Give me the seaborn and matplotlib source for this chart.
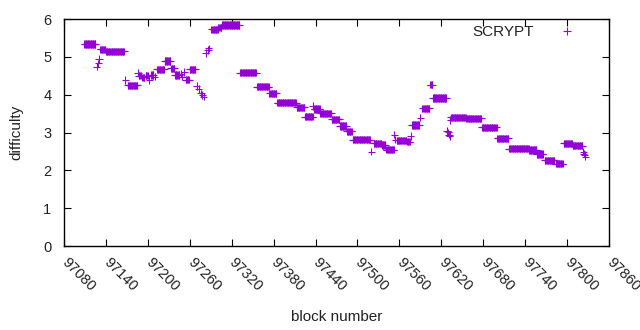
import numpy as np
import pandas as pd
import matplotlib
matplotlib.use("Agg")
import matplotlib.pyplot as plt
import seaborn as sns

# Runs of constant difficulty: (first block, last block, difficulty)
run_start = [97109, 97132, 97140, 97171, 97187, 97192, 97197, 97205, 97213, 97224,
             97233, 97239, 97254, 97260, 97291, 97301, 97306, 97332, 97356, 97374,
             97385, 97413, 97425, 97438, 97447, 97463, 97475, 97485, 97493, 97523,
             97535, 97541, 97556, 97571, 97578, 97593, 97604, 97608, 97634, 97656,
             97678, 97700, 97717, 97746, 97757, 97768, 97784, 97795, 97808]
run_end = [97125, 97139, 97166, 97185, 97190, 97195, 97200, 97208, 97223, 97232,
           97238, 97245, 97259, 97268, 97300, 97305, 97331, 97355, 97373, 97384,
           97412, 97424, 97436, 97446, 97462, 97474, 97484, 97492, 97518, 97534,
           97540, 97552, 97570, 97575, 97588, 97603, 97607, 97627, 97655, 97677,
           97699, 97716, 97745, 97756, 97765, 97782, 97794, 97807, 97822]
run_value = [5.34, 5.20, 5.15, 4.25, 4.50, 4.46, 4.50, 4.52, 4.67, 4.89,
             4.70, 4.52, 4.40, 4.67, 5.73, 5.78, 5.84, 4.58, 4.21, 4.04,
             3.79, 3.67, 3.42, 3.62, 3.51, 3.35, 3.17, 3.03, 2.81, 2.71,
             2.67, 2.55, 2.79, 2.76, 3.20, 3.64, 4.26, 3.91, 3.40, 3.38,
             3.14, 2.85, 2.57, 2.54, 2.43, 2.27, 2.18, 2.71, 2.65]

# Isolated blocks
single_block = [97127, 97129, 97130, 97168, 97186, 97202, 97210, 97247, 97249, 97252,
                97270, 97273, 97276, 97278, 97280, 97283, 97286, 97287, 97436, 97520,
                97553, 97554, 97576, 97590, 97628, 97630, 97631, 97632, 97633, 97823,
                97824, 97825, 97826]
single_value = [4.74, 4.83, 4.94, 4.39, 4.58, 4.39, 4.48, 4.55, 4.48, 4.60,
                4.23, 4.15, 4.04, 3.99, 3.95, 5.10, 5.18, 5.23, 3.70, 2.49,
                2.94, 2.81, 2.91, 3.39, 3.04, 3.01, 2.94, 2.91, 3.33, 2.49,
                2.44, 2.41, 2.36]

x_ticks = list(range(97080, 97861, 60))
y_ticks = [0, 1, 2, 3, 4, 5, 6]

blocks, diffs = [], []
for s, e, v in zip(run_start, run_end, run_value):
    b = np.arange(s, e + 1)
    blocks.extend(b.tolist())
    diffs.extend([v] * len(b))
blocks.extend(single_block)
diffs.extend(single_value)
df = pd.DataFrame({"block": blocks, "difficulty": diffs, "series": "SCRYPT"})

sns.set_theme(style="white")
plt.rcParams["font.family"] = ["Liberation Sans", "DejaVu Sans"]

fig = plt.figure(figsize=(6.4, 3.3), dpi=100)
ax = fig.add_axes([64 / 640, 1 - 246 / 330, 545 / 640, 227 / 330])

color = "#9400D3"
sns.scatterplot(data=df, x="block", y="difficulty", hue="series", palette=[color],
                marker="+", s=27, linewidth=0.8, ax=ax, legend=True)

ax.set_xlim(97080, 97860)
ax.set_ylim(0, 6)
ax.set_xticks(x_ticks)
ax.set_yticks(y_ticks)
ax.set_xticklabels([str(t) for t in x_ticks], rotation=-45, ha="left", va="center",
                   rotation_mode="anchor", fontsize=10.5, color="#222222")
ax.set_yticklabels([str(t) for t in y_ticks], fontsize=10.5, color="#222222")
ax.tick_params(axis="both", direction="in", length=5, width=0.8, color="black",
               top=True, right=True, bottom=True, left=True)
ax.tick_params(axis="y", pad=9)
ax.tick_params(axis="x", pad=10)
for sp in ax.spines.values():
    sp.set_visible(True)
    sp.set_color("black")
    sp.set_linewidth(1.0)

ax.set_xlabel("block number", fontsize=11, color="#222222", labelpad=12)
ax.set_ylabel("difficulty", fontsize=11, color="#222222", labelpad=14)

leg = ax.legend(loc="upper right", bbox_to_anchor=(0.949, 1.0), borderaxespad=0,
                frameon=False, markerfirst=False, fontsize=11,
                handlelength=1.0, handletextpad=1.7, title=None)
for t in leg.get_texts():
    t.set_color("#222222")

fig.savefig("out.png", dpi=100, facecolor="white")
